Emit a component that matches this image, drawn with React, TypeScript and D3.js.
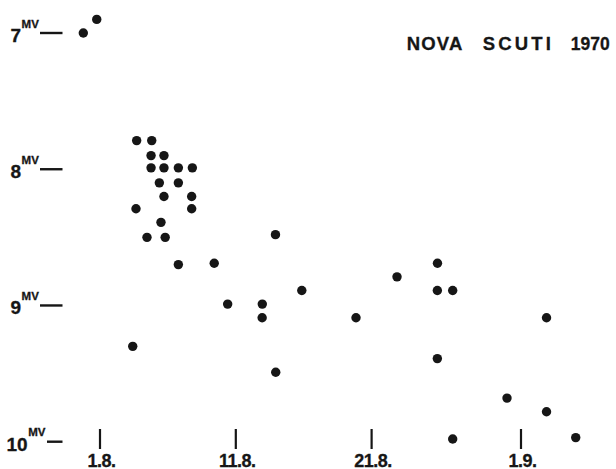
import React from 'react';
import * as d3 from 'd3';

// days since 1 August 1970 (1.8. = 0, 1.9. = 31)
const obsDay = [
  -1.23, -0.24, 2.7, 3.81, 3.76, 4.71, 3.76, 4.71, 5.77, 6.8,
  4.37, 5.77, 4.71, 6.75, 2.65, 6.75, 4.49, 3.46, 4.8, 12.92,
  5.77, 8.41, 14.86, 9.4, 11.95, 11.94, 2.41, 12.94, 18.85, 21.87,
  24.85, 24.84, 25.97, 24.84, 32.88, 29.97, 32.88, 35.03, 25.97,
];
// visual magnitudes
const obsMag = [
  7.0, 6.9, 7.79, 7.79, 7.9, 7.9, 7.99, 7.99, 7.99, 7.99,
  8.1, 8.1, 8.2, 8.2, 8.29, 8.29, 8.39, 8.5, 8.5, 8.48,
  8.7, 8.69, 8.89, 8.99, 8.99, 9.09, 9.3, 9.49, 9.09, 8.79,
  8.69, 8.89, 8.89, 9.39, 9.09, 9.68, 9.78, 9.97, 9.98,
];

const xTickDays = [0, 10, 20, 31];
const xTickLabels = ['1.8.', '11.8.', '21.8.', '1.9.'];
const yTickMags = [7, 8, 9, 10];
const titleWords = ['NOVA', 'SCUTI', '1970'];

const W = 616;
const H = 469;
const FONT = '"Liberation Sans", Arial, Helvetica, sans-serif';
const INK = '#161616';

export default function App() {
  const x = d3.scaleLinear().domain([0, 31]).range([100, 521]);
  const y = d3.scaleLinear().domain([7, 10]).range([33, 441.7]);

  const titleX = [406.7, 482.7, 570.7];
  const titleSpacing = [1.2, 3.2, 0];
  const titleSize = [18.5, 18.5, 17.5];

  return (
    <svg
      width={W}
      height={H}
      viewBox={`0 0 ${W} ${H}`}
      style={{ position: 'absolute', left: 0, top: 0, background: '#fff' }}
      fontFamily={FONT}
    >
      {/* Title */}
      {titleWords.map((w, i) => (
        <text
          key={w}
          x={titleX[i]}
          y={50}
          fontSize={titleSize[i]}
          fontWeight={700}
          letterSpacing={titleSpacing[i]}
          fill={INK}
          stroke={INK}
          strokeWidth={0.3}
        >
          {w}
        </text>
      ))}

      {/* Y axis labels and dashes */}
      {yTickMags.map((m) => {
        const yy = y(m);
        const lbl = String(m);
        const tx = lbl.length > 1 ? 6.5 : 10.5;
        const dashStart = lbl.length > 1 ? 47 : 40;
        return (
          <g key={m}>
            <text x={tx} y={yy + 9} fill={INK} fontWeight={700} stroke={INK} strokeWidth={0.3}>
              <tspan fontSize={19}>{lbl}</tspan>
              <tspan fontSize={11.5} dx={0.5} dy={-14.5}>MV</tspan>
            </text>
            <line x1={dashStart} x2={62.5} y1={yy} y2={yy} stroke={INK} strokeWidth={2.4} />
          </g>
        );
      })}

      {/* X axis ticks and labels */}
      {xTickDays.map((d, i) => {
        const xx = x(d);
        return (
          <g key={d}>
            <line x1={xx} x2={xx} y1={429} y2={449} stroke={INK} strokeWidth={2.2} />
            <text
              x={xx + 1.5}
              y={466.5}
              textAnchor="middle"
              fontSize={18}
              fontWeight={700}
              letterSpacing={-0.5}
              fill={INK}
              stroke={INK}
              strokeWidth={0.3}
            >
              {xTickLabels[i]}
            </text>
          </g>
        );
      })}

      {/* Observations */}
      {obsDay.map((d, i) => (
        <circle key={i} cx={x(d)} cy={y(obsMag[i])} r={4.7} fill={INK} />
      ))}
    </svg>
  );
}
